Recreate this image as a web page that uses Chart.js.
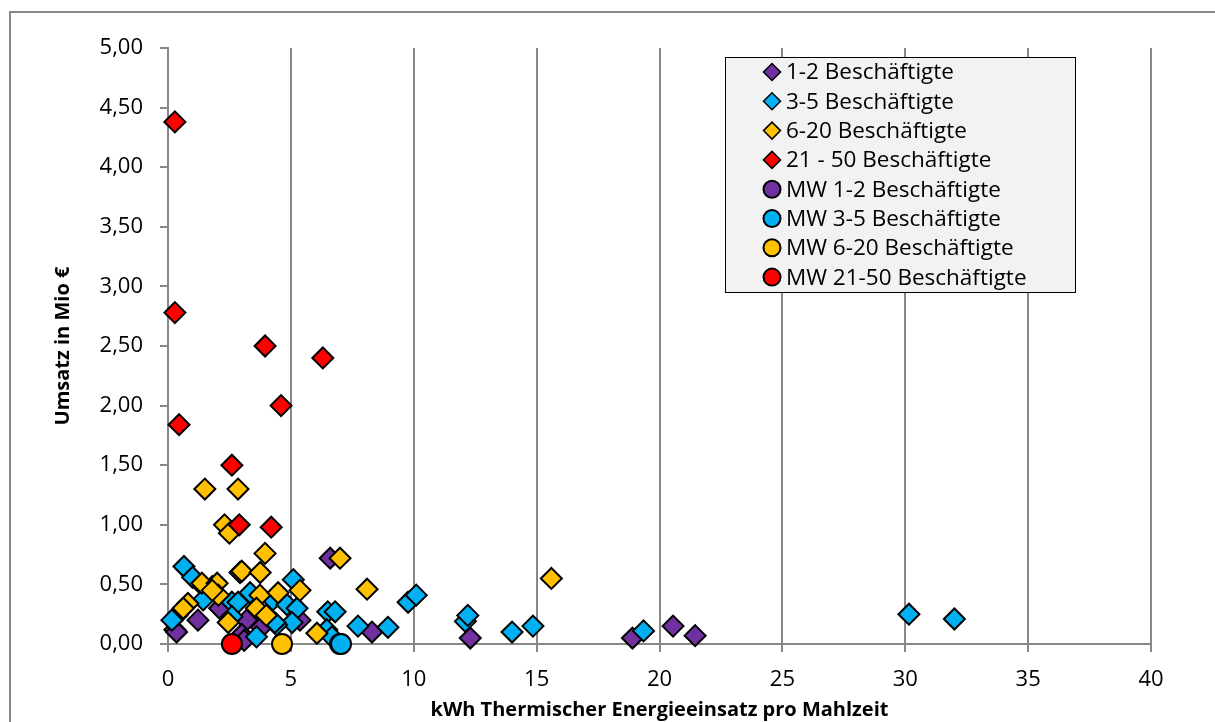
<!DOCTYPE html>
<html>
<head>
<meta charset="utf-8">
<script src="https://cdn.jsdelivr.net/npm/chart.js@4"></script>
<style>
  html, body { margin: 0; padding: 0; background: #fff; }
  #wrap { width: 1215px; height: 722px; position: relative; }
</style>
</head>
<body>
<div id="wrap"><canvas id="chart" width="1215" height="722"></canvas></div>
<script>
// Daten: [kWh pro Mahlzeit, Umsatz in Mio €]
const seriesNames = [
    "1-2 Beschäftigte", "3-5 Beschäftigte", "6-20 Beschäftigte", "21 - 50 Beschäftigte",
    "MW 1-2 Beschäftigte", "MW 3-5 Beschäftigte", "MW 6-20 Beschäftigte", "MW 21-50 Beschäftigte"
];

const besch1bis2 = [
    [0.28, 0.12], [0.35, 0.10], [1.22, 0.20], [2.1, 0.30], [3.2, 0.20], [3.8, 0.14],
    [3.0, 0.08], [3.1, 0.03], [5.37, 0.20], [6.6, 0.72], [8.3, 0.10], [12.3, 0.05],
    [18.9, 0.05], [20.55, 0.15], [21.45, 0.07]
];
const besch3bis5 = [
    [0.65, 0.65], [1.0, 0.56], [1.8, 0.48], [1.5, 0.47], [1.43, 0.37], [0.36, 0.24],
    [0.16, 0.20], [2.6, 0.35], [2.85, 0.35], [3.34, 0.43], [4.27, 0.37], [4.84, 0.33],
    [5.25, 0.30], [5.1, 0.54], [5.05, 0.18], [4.42, 0.16], [4.35, 0.18], [2.6, 0.23],
    [3.6, 0.06], [6.5, 0.27], [6.8, 0.27], [6.46, 0.12], [6.67, 0.06], [7.73, 0.15],
    [8.95, 0.14], [9.77, 0.35], [10.1, 0.41], [12.1, 0.19], [12.2, 0.24], [14.0, 0.10],
    [14.85, 0.15], [19.35, 0.11], [30.15, 0.25], [32.0, 0.21]
];
const besch6bis20 = [
    [1.5, 1.30], [2.85, 1.30], [2.3, 1.00], [2.5, 0.93], [3.95, 0.76], [2.93, 0.60],
    [3.0, 0.61], [3.75, 0.60], [1.38, 0.51], [2.0, 0.51], [2.05, 0.41], [1.8, 0.45],
    [0.81, 0.34], [0.62, 0.30], [3.74, 0.41], [4.48, 0.43], [5.37, 0.45], [3.6, 0.30],
    [4.0, 0.24], [2.45, 0.18], [6.06, 0.09], [7.0, 0.72], [8.1, 0.46], [15.6, 0.55]
];
const besch21bis50 = [
    [0.28, 4.38], [0.28, 2.78], [0.45, 1.84], [3.95, 2.50], [6.3, 2.40], [4.6, 2.00],
    [2.6, 1.50], [2.9, 1.00], [4.2, 0.98]
];
const mw1bis2 = [[7.0, 0.0]];
const mw3bis5 = [[7.04, 0.0]];
const mw6bis20 = [[4.64, 0.0]];
const mw21bis50 = [[2.6, 0.0]];

const xTicks = [0, 5, 10, 15, 20, 25, 30, 35, 40];
const yTicks = [0, 0.5, 1, 1.5, 2, 2.5, 3, 3.5, 4, 4.5, 5];

const colors = ["#7030A0", "#00B0F0", "#FFC000", "#FF0000"];
const FONT = "'Open Sans', sans-serif";
const GRID = "#888888";

function toPoints(arr) {
    return arr.map(p => ({ x: p[0], y: p[1] }));
}

const allSeries = [besch1bis2, besch3bis5, besch6bis20, besch21bis50, mw1bis2, mw3bis5, mw6bis20, mw21bis50];

const datasets = allSeries.map((arr, i) => {
    const isMW = i >= 4;
    return {
        label: seriesNames[i],
        data: toPoints(arr),
        pointStyle: isMW ? "circle" : "rectRot",
        pointRadius: isMW ? 10 : 10.5,
        pointHoverRadius: isMW ? 10 : 10.5,
        backgroundColor: colors[i % 4],
        borderColor: "#000",
        pointBorderWidth: 2,
        borderWidth: 2,
        showLine: false,
        clip: false,
        order: 8 - i   // spätere Serien oben, wie in Excel
    };
});

/** Rahmen um das Diagramm (links und oben sichtbar) */
const framePlugin = {
    id: "frame",
    beforeDraw(chart) {
        const c = chart.ctx;
        c.save();
        c.fillStyle = "#fff";
        c.fillRect(0, 0, chart.width, chart.height);
        c.strokeStyle = "#888888";
        c.lineWidth = 2;
        c.beginPath();
        c.moveTo(10, chart.height);
        c.lineTo(10, 12);
        c.lineTo(chart.width, 12);
        c.stroke();
        c.restore();
    }
};

/** Legende im Diagrammbereich */
const legendPlugin = {
    id: "boxLegend",
    afterDraw(chart) {
        const c = chart.ctx;
        const box = { x: 725, y: 57, w: 350, h: 235 };
        c.save();
        c.fillStyle = "#f2f2f2";
        c.fillRect(box.x, box.y, box.w, box.h);
        c.strokeStyle = "#000";
        c.lineWidth = 1;
        c.strokeRect(box.x + 0.5, box.y + 0.5, box.w, box.h);

        c.font = "22.5px " + FONT;
        c.textBaseline = "middle";
        c.textAlign = "left";
        chart.data.datasets.forEach((ds, i) => {
            const cy = box.y + 15 + i * 29.3;
            const isMW = ds.pointStyle === "circle";
            c.fillStyle = ds.backgroundColor;
            c.strokeStyle = "#000";
            c.lineWidth = isMW ? 2 : 1.5;
            Chart.helpers.drawPoint(c, {
                pointStyle: ds.pointStyle,
                radius: 8.5,
                rotation: 0,
                borderWidth: c.lineWidth
            }, 772, cy);
            c.fillStyle = "#000";
            c.fillText(ds.label, 786, cy + 1);
        });
        c.restore();
    }
};

new Chart(document.getElementById("chart"), {
    type: "scatter",
    data: { datasets: datasets },
    plugins: [framePlugin, legendPlugin],
    options: {
        responsive: false,
        animation: false,
        layout: { padding: { left: 51, right: 64, top: 48, bottom: 0 } },
        plugins: {
            legend: { display: false },
            tooltip: { enabled: false }
        },
        scales: {
            x: {
                type: "linear",
                min: 0,
                max: 40,
                afterBuildTicks: s => { s.ticks = xTicks.map(v => ({ value: v })); },
                afterFit: s => { s.height = 78; },
                ticks: { color: "#000", font: { family: FONT, size: 22 }, padding: 15 },
                grid: { color: GRID, lineWidth: 2, tickLength: 8, drawTicks: true },
                border: { color: GRID, width: 2 },
                title: {
                    display: true,
                    text: "kWh Thermischer Energieeinsatz pro Mahlzeit",
                    color: "#000",
                    font: { family: FONT, size: 20, weight: "bold" },
                    padding: { top: 0, bottom: 0 }
                }
            },
            y: {
                type: "linear",
                min: 0,
                max: 5,
                afterBuildTicks: s => { s.ticks = yTicks.map(v => ({ value: v })); },
                afterFit: s => { s.width = 168 - 51; },
                ticks: {
                    color: "#000",
                    font: { family: FONT, size: 22 },
                    padding: 17,
                    callback: v => v.toFixed(2).replace(".", ",")
                },
                grid: { drawOnChartArea: false, color: GRID, lineWidth: 2, tickLength: 8 },
                border: { color: GRID, width: 2 },
                title: {
                    display: true,
                    text: "Umsatz in Mio €",
                    color: "#000",
                    font: { family: FONT, size: 20, weight: "bold" },
                    padding: { top: 0, bottom: 0 }
                }
            }
        }
    }
});
</script>
</body>
</html>
